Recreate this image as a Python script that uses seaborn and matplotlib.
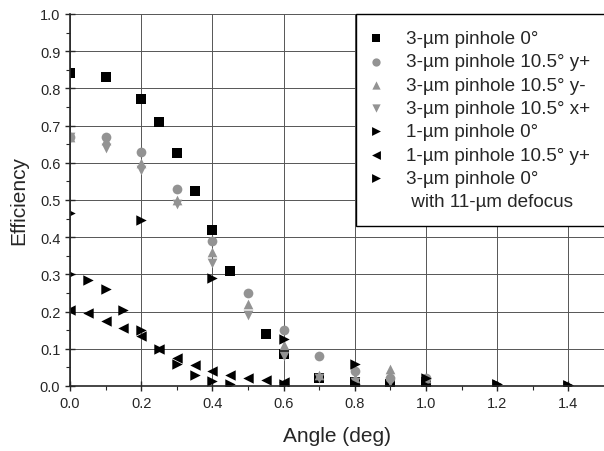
import matplotlib
matplotlib.use('Agg')
import matplotlib.pyplot as plt
from matplotlib.lines import Line2D
import seaborn as sns

# angle (deg) and efficiency for each measurement series
x_sq = [0.0, 0.1, 0.2, 0.25, 0.3, 0.35, 0.4, 0.45, 0.55, 0.6, 0.7, 0.8, 0.9, 1.0]
y_sq = [0.84, 0.83, 0.77, 0.71, 0.625, 0.525, 0.42, 0.31, 0.14, 0.085, 0.02, 0.01, 0.005, 0.01]

x_10 = [0.0, 0.1, 0.2, 0.3, 0.4, 0.5, 0.6, 0.7, 0.8, 0.9, 1.0]
y_yplus = [0.67, 0.67, 0.63, 0.53, 0.39, 0.25, 0.15, 0.08, 0.04, 0.02, 0.02]
y_yminus = [0.67, 0.66, 0.60, 0.50, 0.36, 0.22, 0.11, 0.03, 0.02, 0.045, 0.02]
y_xplus = [0.67, 0.64, 0.58, 0.49, 0.33, 0.19, 0.08, 0.02, 0.01, 0.01, 0.01]

x_1um = [0.0, 0.05, 0.1, 0.15, 0.2, 0.25, 0.3, 0.35, 0.4, 0.45, 0.6, 0.8, 1.0, 1.2, 1.4]
y_1um = [0.30, 0.285, 0.26, 0.205, 0.15, 0.10, 0.06, 0.03, 0.013, 0.005, 0.004, 0.005, 0.003, 0.005, 0.002]

x_1um10 = [0.0, 0.05, 0.1, 0.15, 0.2, 0.25, 0.3, 0.35, 0.4, 0.45, 0.5, 0.55, 0.6]
y_1um10 = [0.205, 0.195, 0.175, 0.155, 0.135, 0.10, 0.075, 0.055, 0.04, 0.03, 0.02, 0.015, 0.01]

x_def = [0.0, 0.2, 0.4, 0.6, 0.8, 1.0, 1.2, 1.4]
y_def = [0.465, 0.445, 0.29, 0.125, 0.06, 0.02, 0.006, 0.003]

sns.set_style('ticks')
plt.rcParams['font.family'] = ['Liberation Sans', 'DejaVu Sans']

fig = plt.figure(figsize=(6.04, 4.52), dpi=100)
ax = fig.add_axes([0.116, 0.144, 0.884, 0.823])

grey = '#939393'
series = [
    (x_sq, y_sq, 's', 'black', 7, '3-µm pinhole 0°'),
    (x_10, y_yplus, 'o', grey, 7, '3-µm pinhole 10.5° y+'),
    (x_10, y_yminus, '^', grey, 7, '3-µm pinhole 10.5° y-'),
    (x_10, y_xplus, 'v', grey, 7, '3-µm pinhole 10.5° x+'),
    (x_1um, y_1um, '>', 'black', 7.5, '1-µm pinhole 0°'),
    (x_1um10, y_1um10, '<', 'black', 7.5, '1-µm pinhole 10.5° y+'),
    (x_def, y_def, '>', 'black', 7.5, '3-µm pinhole 0°'),
]
for xs, ys, m, c, ms, lab in series:
    sns.scatterplot(x=xs, y=ys, marker=m, color=c, s=ms ** 2, linewidth=0,
                    ax=ax, label=lab, zorder=3)

ax.set_xlim(0, 1.5)
ax.set_ylim(0, 1.0)
ax.set_xticks([0.0, 0.2, 0.4, 0.6, 0.8, 1.0, 1.2, 1.4])
ax.set_xticks([0.1, 0.3, 0.5, 0.7, 0.9, 1.1, 1.3], minor=True)
ax.set_yticks([i / 10 for i in range(11)])
ax.set_yticks([i / 20 for i in range(1, 20, 2)], minor=True)
ax.tick_params(which='major', direction='inout', length=7, width=1, labelsize=10.5)
ax.tick_params(which='minor', direction='out', length=3, width=0.8)
ax.grid(True, which='major', color='#555555', linewidth=0.7)
for s in ['top', 'right']:
    ax.spines[s].set_visible(False)
for s in ['left', 'bottom']:
    ax.spines[s].set_linewidth(1.2)
    ax.spines[s].set_zorder(4)

ax.set_xlabel('Angle (deg)', fontsize=15, labelpad=12)
ax.set_ylabel('Efficiency', fontsize=15, labelpad=8)

handles, labels = ax.get_legend_handles_labels()
handles.append(Line2D([], [], linestyle='none', marker=None))
labels.append(' with 11-µm defocus')
leg = ax.legend(handles, labels, loc='upper right', bbox_to_anchor=(1.005, 1.0),
                fontsize=13.6, frameon=True, fancybox=False, framealpha=1,
                edgecolor='black', borderaxespad=0, labelspacing=0.32,
                handlelength=0.42, handletextpad=1.38, borderpad=0.85,
                markerscale=0.85)
leg.get_frame().set_linewidth(1.0)

fig.savefig('out.png', dpi=100)
